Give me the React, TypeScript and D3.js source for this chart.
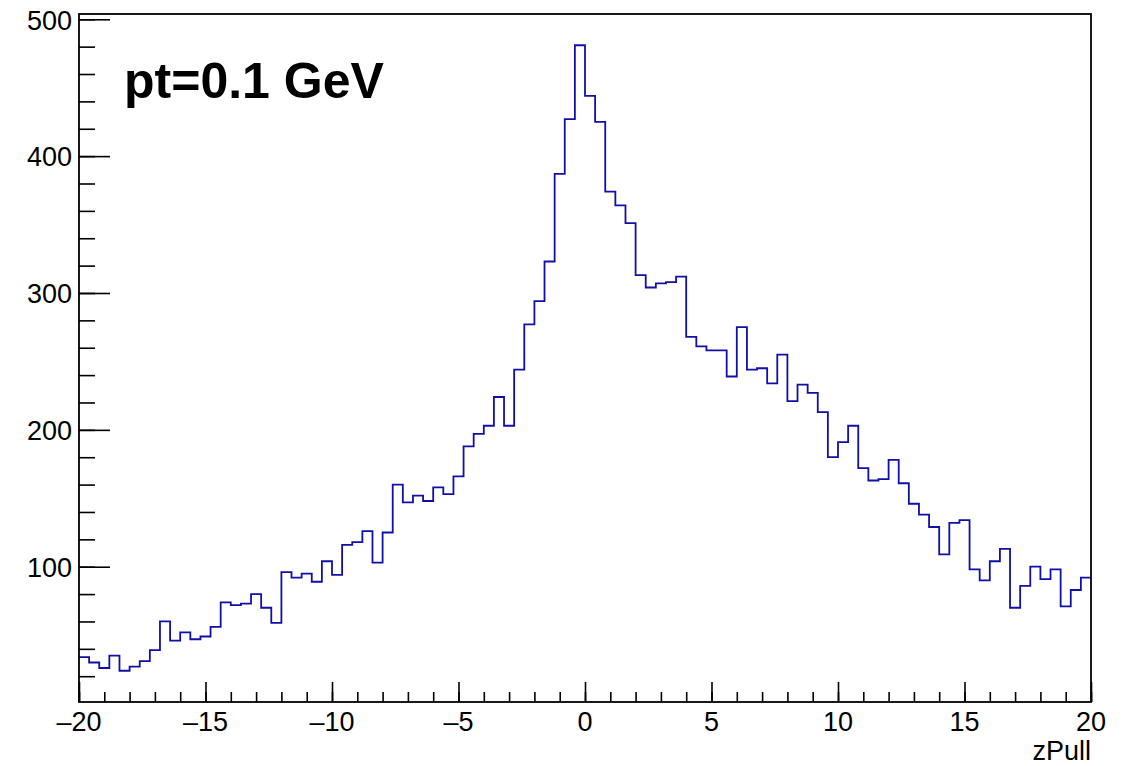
import React, { useEffect, useRef } from "react";
import * as d3 from "d3";

// zPull histogram, 100 bins from -20 to 20
const xRange = [-20, 20];
const binCounts = [
  34, 30, 26, 35, 24, 27, 31, 39, 60, 46,
  52, 47, 49, 56, 74, 72, 73, 80, 70, 59,
  96, 92, 95, 89, 104, 94, 116, 118, 126, 103,
  125, 160, 147, 152, 148, 158, 153, 166, 188, 197,
  203, 224, 203, 244, 277, 294, 323, 387, 427, 481,
  444, 425, 374, 364, 351, 313, 304, 307, 308, 312,
  268, 261, 258, 258, 239, 275, 244, 245, 234, 255,
  221, 233, 227, 213, 180, 191, 203, 172, 163, 164,
  178, 161, 146, 138, 129, 109, 132, 134, 98, 90,
  104, 113, 70, 86, 100, 91, 98, 71, 83, 92,
];
const xMajorTicks = [-20, -15, -10, -5, 0, 5, 10, 15, 20];
const yMajorTicks = [100, 200, 300, 400, 500];
const title = "pt=0.1 GeV";
const xTitle = "zPull";

const App = () => {
  const svgRef = useRef(null);

  useEffect(() => {
    const W = 1137;
    const H = 766;
    const margin = { top: 14, right: 46, bottom: 64, left: 79 };
    const width = W - margin.left - margin.right;
    const height = H - margin.top - margin.bottom;

    const svg = d3.select(svgRef.current);
    svg.selectAll("*").remove();
    svg.attr("width", W).attr("height", H);

    const g = svg
      .append("g")
      .attr("transform", `translate(${margin.left}, ${margin.top})`);

    // ROOT style y range: 5% margin around min/max
    const lo = d3.min(binCounts);
    const hi = d3.max(binCounts);
    const pad = 0.05 * (hi - lo);

    const x = d3.scaleLinear().domain(xRange).range([0, width]);
    const y = d3.scaleLinear().domain([lo - pad, hi + pad]).range([height, 0]);

    const binW = (xRange[1] - xRange[0]) / binCounts.length;
    const pts = binCounts.map((v, i) => [xRange[0] + i * binW, v]);
    pts.push([xRange[1], binCounts[binCounts.length - 1]]);

    const line = d3
      .line()
      .x((d) => x(d[0]))
      .y((d) => y(d[1]))
      .curve(d3.curveStepAfter);

    g.append("path")
      .datum(pts)
      .attr("d", line)
      .attr("fill", "none")
      .attr("stroke", "#1010a8")
      .attr("stroke-width", 1.8);

    const font = "'Liberation Sans', Arial, Helvetica, sans-serif";

    // x axis: minor ticks every 1, major every 5
    const xMinor = d3.range(xRange[0], xRange[1] + 1, 1);
    const xAxisMinor = g
      .append("g")
      .attr("transform", `translate(0, ${height})`)
      .call(d3.axisBottom(x).tickValues(xMinor).tickSize(-10).tickFormat(() => ""));
    const xAxis = g
      .append("g")
      .attr("transform", `translate(0, ${height})`)
      .call(
        d3
          .axisBottom(x)
          .tickValues(xMajorTicks)
          .tickSize(-20)
          .tickFormat(() => "")
      );

    // y axis: minor ticks every 20
    const yMinor = d3.range(20, 501, 20);
    const yAxisMinor = g
      .append("g")
      .call(d3.axisLeft(y).tickValues(yMinor).tickSize(-16).tickFormat(() => ""));
    const yAxis = g
      .append("g")
      .call(d3.axisLeft(y).tickValues(yMajorTicks).tickSize(-31).tickPadding(7));

    [xAxisMinor, xAxis, yAxisMinor, yAxis].forEach((a) => {
      a.select(".domain").remove();
      a.selectAll("line").attr("stroke", "#000").attr("stroke-width", 1.6);
    });

    g.selectAll(".xlab")
      .data(xMajorTicks)
      .enter()
      .append("text")
      .attr("class", "xlab")
      .attr("x", (d) => x(d))
      .attr("y", height + 29)
      .attr("text-anchor", "middle")
      .style("font-family", font)
      .style("font-size", "27px")
      .style("fill", "#000")
      .text((d) => (d < 0 ? "\u2013" + Math.abs(d) : String(d)));

    yAxis
      .selectAll("text")
      .style("font-family", font)
      .style("font-size", "27px")
      .style("fill", "#000")
      .attr("dy", "0.36em");

    // frame
    g.append("rect")
      .attr("x", 0)
      .attr("y", 0)
      .attr("width", width)
      .attr("height", height)
      .attr("fill", "none")
      .attr("stroke", "#000")
      .attr("stroke-width", 1.8);

    g.append("text")
      .attr("x", width)
      .attr("y", height + 58)
      .attr("text-anchor", "end")
      .style("font-family", font)
      .style("font-size", "27px")
      .style("fill", "#000")
      .text(xTitle);

    g.append("text")
      .attr("x", 45)
      .attr("y", 84)
      .style("font-family", font)
      .style("font-size", "50px")
      .style("font-weight", "bold")
      .style("fill", "#000")
      .text(title);
  }, []);

  return (
    <svg
      ref={svgRef}
      style={{ position: "absolute", left: 0, top: 0, background: "#fff" }}
    ></svg>
  );
};

export default App;
